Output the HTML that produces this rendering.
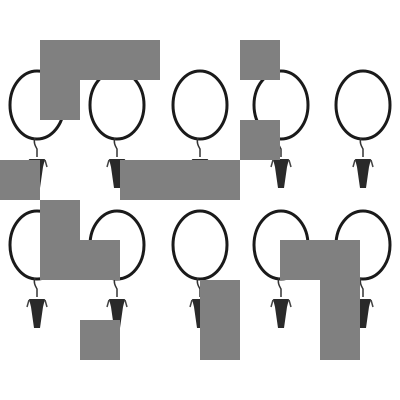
<!DOCTYPE html>
<html><head><meta charset="utf-8"><style>
html,body{margin:0;padding:0;background:#fff;width:400px;height:400px;overflow:hidden}
svg{display:block}
</style></head><body>
<svg width="400" height="400" viewBox="0 0 400 400">
<defs>
<g id="ring">
<ellipse cx="0" cy="0" rx="27" ry="34" fill="none" stroke="#1a1a1a" stroke-width="3"/>
<path d="M-2,33 C-4,38 -1,42 0,44 L0,52" fill="none" stroke="#333" stroke-width="1.5"/>
<path d="M-8,54 L8,54 L6,62 L3,83 L-3,83 L-6,62 Z" fill="#2a2a2a"/>
<path d="M-8,55 L-10,62" fill="none" stroke="#444" stroke-width="1.5"/>
<path d="M8,55 L10,62" fill="none" stroke="#444" stroke-width="1.5"/>
</g>
</defs>
<g>
<use href="#ring" x="37" y="105"/><use href="#ring" x="117" y="105"/><use href="#ring" x="200" y="105"/><use href="#ring" x="281" y="105"/><use href="#ring" x="363" y="105"/>
</g>
<g>
<use href="#ring" x="37" y="245"/><use href="#ring" x="117" y="245"/><use href="#ring" x="200" y="245"/><use href="#ring" x="281" y="245"/><use href="#ring" x="363" y="245"/>
</g>
<g fill="#808080">
<rect x="40" y="40" width="120" height="40"/><rect x="40" y="80" width="40" height="40"/>
<rect x="240" y="40" width="40" height="40"/>
<rect x="240" y="120" width="40" height="40"/>
<rect x="0" y="160" width="40" height="40"/>
<rect x="120" y="160" width="120" height="40"/>
<rect x="40" y="200" width="40" height="40"/><rect x="40" y="240" width="80" height="40"/>
<rect x="280" y="240" width="80" height="40"/>
<rect x="200" y="280" width="40" height="80"/>
<rect x="320" y="280" width="40" height="80"/>
<rect x="80" y="320" width="40" height="40"/>
</g>
</svg>
</body></html>
